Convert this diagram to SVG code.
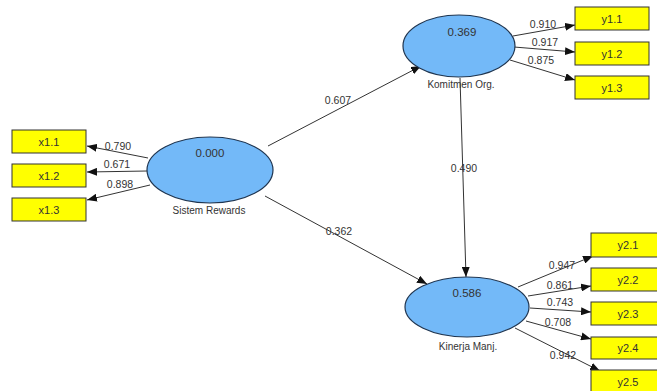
<svg xmlns="http://www.w3.org/2000/svg" width="657" height="391" viewBox="0 0 657 391">
<style>
.lv{fill:#73b9f8;stroke:#1f3550;stroke-width:1.2}
.ind{fill:#ffff00;stroke:#333;stroke-width:1}
.t{font-family:"Liberation Sans",Arial,sans-serif;fill:#333;text-anchor:middle}
.v{font-size:11.5px}
.n{font-size:10px}
.w{font-size:10.5px}
.b{font-size:11px}
.c{stroke:#333;stroke-width:1;fill:none;marker-end:url(#ah)}
</style>
<defs>
<marker id="ah" markerWidth="10" markerHeight="8" refX="10" refY="4" orient="auto" markerUnits="userSpaceOnUse">
<path d="M0,0 L10,4 L0,8 Z" fill="#111"/>
</marker>
</defs>
<rect width="657" height="391" fill="#fff"/>
<g id="connectors">
<line class="c" x1="148" y1="158" x2="87" y2="146"/>
<line class="c" x1="147" y1="171" x2="87" y2="172"/>
<line class="c" x1="150" y1="185" x2="87" y2="200"/>
<line class="c" x1="268" y1="146" x2="421" y2="66"/>
<line class="c" x1="265" y1="196" x2="427" y2="284"/>
<line class="c" x1="460" y1="78" x2="466" y2="277"/>
<line class="c" x1="513" y1="36" x2="575" y2="25"/>
<line class="c" x1="514" y1="47" x2="575" y2="52"/>
<line class="c" x1="510" y1="60" x2="575" y2="80"/>
<line class="c" x1="518" y1="287" x2="593" y2="256"/>
<line class="c" x1="528" y1="296" x2="591" y2="286"/>
<line class="c" x1="530" y1="308" x2="591" y2="312"/>
<line class="c" x1="526" y1="321" x2="591" y2="339"/>
<line class="c" x1="515" y1="328" x2="600" y2="371"/>
<text class="t w" x="118" y="150">0.790</text>
<text class="t w" x="117" y="168">0.671</text>
<text class="t w" x="120" y="188">0.898</text>
<text class="t w" x="338" y="104">0.607</text>
<text class="t w" x="339" y="235">0.362</text>
<text class="t w" x="464" y="172">0.490</text>
<text class="t w" x="543" y="28">0.910</text>
<text class="t w" x="545" y="46">0.917</text>
<text class="t w" x="541" y="64">0.875</text>
<text class="t w" x="562" y="269">0.947</text>
<text class="t w" x="560" y="289">0.861</text>
<text class="t w" x="560" y="306">0.743</text>
<text class="t w" x="558" y="326">0.708</text>
<text class="t w" x="563" y="359">0.942</text>
</g>
<g id="sistem-rewards">
<ellipse class="lv" cx="210" cy="170" rx="63" ry="33"/>
<text class="t v" x="210" y="157">0.000</text>
<text class="t n" x="209" y="214">Sistem Rewards</text>
</g>
<g id="komitmen-org">
<ellipse class="lv" cx="459" cy="46" rx="56" ry="31"/>
<text class="t v" x="462" y="36">0.369</text>
<text class="t n" x="461" y="88">Komitmen Org.</text>
</g>
<g id="kinerja-manj">
<ellipse class="lv" cx="467" cy="307" rx="62" ry="30"/>
<text class="t v" x="467" y="297">0.586</text>
<text class="t n" x="468" y="350">Kinerja Manj.</text>
</g>
<g id="x1.1"><rect class="ind" x="12" y="130" width="74" height="23"/><text class="t b" x="49" y="145.5">x1.1</text></g>
<g id="x1.2"><rect class="ind" x="12" y="164" width="74" height="23"/><text class="t b" x="49" y="179.5">x1.2</text></g>
<g id="x1.3"><rect class="ind" x="12" y="198" width="74" height="23"/><text class="t b" x="49" y="213.5">x1.3</text></g>
<g id="y1.1"><rect class="ind" x="575" y="7" width="74" height="23"/><text class="t b" x="612" y="22.5">y1.1</text></g>
<g id="y1.2"><rect class="ind" x="575" y="42" width="74" height="23"/><text class="t b" x="612" y="57.5">y1.2</text></g>
<g id="y1.3"><rect class="ind" x="575" y="76" width="74" height="23"/><text class="t b" x="612" y="91.5">y1.3</text></g>
<g id="y2.1"><rect class="ind" x="591" y="233" width="74" height="24"/><text class="t b" x="628" y="249">y2.1</text></g>
<g id="y2.2"><rect class="ind" x="591" y="268" width="74" height="23"/><text class="t b" x="628" y="283.5">y2.2</text></g>
<g id="y2.3"><rect class="ind" x="591" y="302" width="74" height="23"/><text class="t b" x="628" y="317.5">y2.3</text></g>
<g id="y2.4"><rect class="ind" x="591" y="337" width="74" height="22"/><text class="t b" x="628" y="352">y2.4</text></g>
<g id="y2.5"><rect class="ind" x="591" y="370" width="74" height="24"/><text class="t b" x="628" y="386">y2.5</text></g>
</svg>
